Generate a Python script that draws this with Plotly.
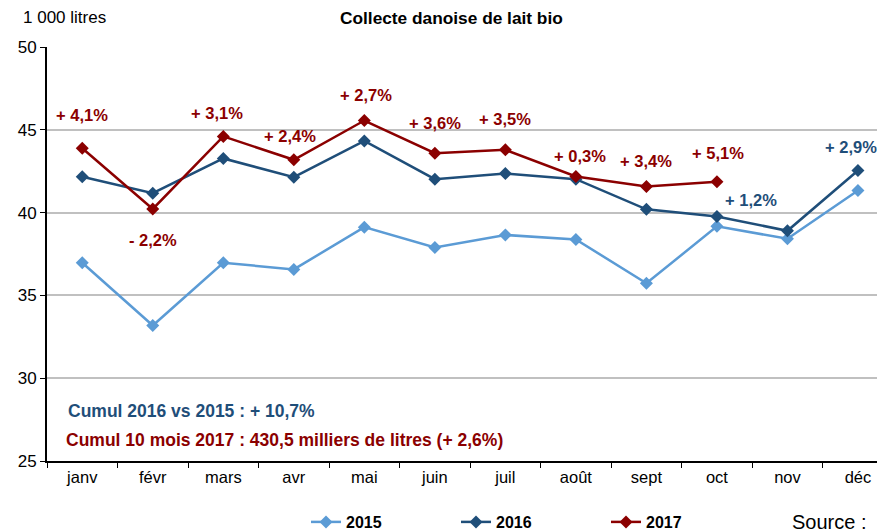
import plotly.graph_objects as go

months = ["janv", "févr", "mars", "avr", "mai", "juin", "juil", "août", "sept", "oct", "nov", "déc"]
v2015 = [36.97, 33.18, 36.97, 36.57, 39.12, 37.90, 38.65, 38.38, 35.73, 39.17, 38.42, 41.33]
v2016 = [42.16, 41.17, 43.27, 42.14, 44.33, 42.02, 42.36, 42.02, 40.20, 39.77, 38.90, 42.54]
v2017 = [43.89, 40.22, 44.60, 43.19, 45.56, 43.59, 43.79, 42.18, 41.57, 41.87]

labels_2017 = ["+ 4,1%", "- 2,2%", "+ 3,1%", "+ 2,4%", "+ 2,7%", "+ 3,6%", "+ 3,5%", "+ 0,3%", "+ 3,4%", "+ 5,1%"]
labels_2016 = {"nov": "+ 1,2%", "déc": "+ 2,9%"}

C15 = "#5B9BD5"
C16 = "#1F4E79"
C17 = "#8B0000"
FONT = "Liberation Sans, Arial, sans-serif"

fig = go.Figure()
for name, vals, col in [("2015", v2015, C15), ("2016", v2016, C16), ("2017", v2017, C17)]:
    fig.add_trace(go.Scatter(
        x=months[:len(vals)], y=vals, name=name, mode="lines+markers",
        line=dict(color=col, width=2.5),
        marker=dict(symbol="diamond", size=10, color=col),
    ))

pos17 = [(0, 45.91), (1, 38.36), (1.91, 46.03), (2.94, 44.64), (4.02, 47.12),
         (5, 45.43), (6, 45.67), (7.06, 43.44), (8, 43.13), (9.02, 43.6)]
ann = []
for (x, y), t in zip(pos17, labels_2017):
    ann.append(dict(x=x, y=y, xref="x", yref="y", text=t, showarrow=False,
                    font=dict(family=FONT, size=16.5, color=C17, weight="bold")))
pos16 = {"nov": (9.49, 40.78), "déc": (10.9, 43.98)}
for k, t in labels_2016.items():
    x, y = pos16[k]
    ann.append(dict(x=x, y=y, xref="x", yref="y", text=t, showarrow=False,
                    font=dict(family=FONT, size=16.5, color=C16, weight="bold")))

W, H = 877, 532
ML, MT, MB = 47, 47, 71
PW, PH = W - ML, H - MT - MB

def pix(x, y):
    return (x - ML) / PW, (H - MB - y) / PH

def pann(x, y, text, size, color, bold=False, xanchor="left"):
    px_, py_ = pix(x, y)
    f = dict(family=FONT, size=size, color=color)
    if bold:
        f["weight"] = "bold"
    return dict(x=px_, y=py_, xref="paper", yref="paper", text=text, showarrow=False,
                xanchor=xanchor, yanchor="middle", font=f)

ann += [
    pann(21, 18, "1 000 litres", 17, "#000"),
    pann(451, 18, "Collecte danoise de lait bio", 17.3, "#000", bold=True, xanchor="center"),
    pann(66, 411, "Cumul 2016 vs 2015 : + 10,7%", 17.5, C16, bold=True),
    pann(64, 440, "Cumul 10 mois 2017 : 430,5 milliers de litres (+ 2,6%)", 17.5, C17, bold=True),
    pann(790, 522, "Source :", 20, "#000"),
]

lx, ly = pix(306, 522)
fig.update_layout(
    width=W, height=H,
    margin=dict(l=ML, r=0, t=MT, b=MB, autoexpand=False),
    paper_bgcolor="white", plot_bgcolor="white",
    font=dict(family=FONT, size=16, color="#000"),
    showlegend=True,
    legend=dict(orientation="h", x=lx, xanchor="left", y=ly,
                yanchor="middle", font=dict(family=FONT, size=16, color="#000", weight="bold"),
                entrywidth=105, entrywidthmode="pixels", bgcolor="rgba(0,0,0,0)"),
    annotations=ann,
    xaxis=dict(type="category", range=[-0.5, 11.27], showgrid=False, showline=True,
               linecolor="#000", linewidth=2, ticks="outside", tickson="boundaries",
               ticklen=5, tickcolor="#000", tickfont=dict(family=FONT, size=16.5)),
    yaxis=dict(range=[25, 50], tickvals=[25, 30, 35, 40, 45, 50], showgrid=True,
               gridcolor="#C0C0C0", gridwidth=1.5, showline=True, linecolor="#000", linewidth=2,
               ticks="outside", ticklen=5, tickcolor="#000", zeroline=False,
               tickfont=dict(family=FONT, size=17)),
)

fig.write_html("out.html", config={"displayModeBar": False},
               post_script="document.body.style.margin='0';document.body.style.overflow='hidden';")
